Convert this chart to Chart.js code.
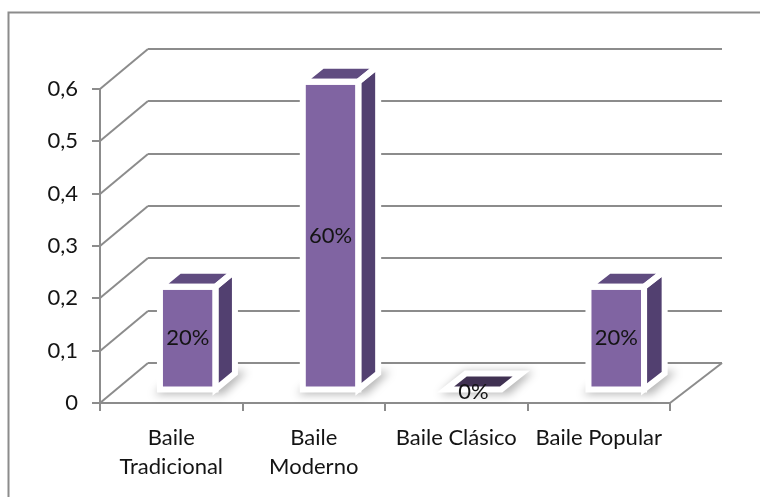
<!DOCTYPE html>
<html lang="es">
<head>
<meta charset="utf-8">
<title>Baile</title>
<script src="https://cdn.jsdelivr.net/npm/chart.js@4"></script>
<style>
  html, body { margin: 0; padding: 0; background: #fff; overflow: hidden; }
  #wrap { width: 760px; height: 497px; position: relative; }
</style>
</head>
<body>
<div id="wrap"><canvas id="chart"></canvas></div>
<script>
// -------- Data ----------
const categories = [["Baile", "Tradicional"], ["Baile", "Moderno"], "Baile Clásico", "Baile Popular"];
const values = [0.2, 0.6, 0, 0.2];
const yTicks = [0, 0.1, 0.2, 0.3, 0.4, 0.5, 0.6];

// -------- Look ----------
const GRID = "#8c8c8c";
const TEXT = "#141414";
const FONT = "Lato, 'Open Sans', sans-serif";
const FACE = { front: "#8064A2", top: "#604C80", side: "#524070", flat: "#403152" };
const DEPTH = { dy: 40, dxLeft: 48, dxRight: 52 };  // how far the back wall sits
const BAR_D1 = 0.34, BAR_D2 = 0.74;                 // bar front/back, as part of the depth
const BAR_SHRINK = 0.98;                            // bars sit a bit back, so a bit smaller

// -------- Helpers ----------
function depthDx(chart, x) {
  const a = chart.chartArea;
  return DEPTH.dxLeft + (DEPTH.dxRight - DEPTH.dxLeft) * (x - a.left) / (a.right - a.left);
}

// front-plane point pushed back by d (0..1)
function back(chart, x, y, d) {
  return [x + depthDx(chart, x) * d, y - DEPTH.dy * d];
}

function poly(ctx, pts) {
  ctx.beginPath();
  ctx.moveTo(pts[0][0], pts[0][1]);
  for (let i = 1; i < pts.length; i++) ctx.lineTo(pts[i][0], pts[i][1]);
  ctx.closePath();
}

function seg(ctx, x0, y0, x1, y1) {
  ctx.beginPath();
  ctx.moveTo(x0, y0);
  ctx.lineTo(x1, y1);
  ctx.stroke();
}

// -------- Plugins ----------
const frame = {
  id: "frame",
  beforeDraw(chart) {
    const ctx = chart.ctx;
    ctx.save();
    ctx.strokeStyle = GRID;
    ctx.lineWidth = 2;
    ctx.beginPath();
    ctx.moveTo(8.5, chart.height);
    ctx.lineTo(8.5, 12.5);
    ctx.lineTo(chart.width, 12.5);
    ctx.stroke();
    ctx.restore();
  }
};

// side wall diagonals, back wall lines and floor edge
const walls = {
  id: "walls",
  beforeDatasetsDraw(chart) {
    const { ctx, chartArea: a, scales: { y } } = chart;
    ctx.save();
    ctx.strokeStyle = GRID;
    ctx.lineWidth = 2;
    yTicks.forEach(v => {
      const py = Math.round(y.getPixelForValue(v));
      const [bx, by] = back(chart, a.left, py, 1);
      const [rx] = back(chart, a.right, py, 1);
      seg(ctx, a.left, py, bx, by);
      seg(ctx, bx, by, rx, by);
    });
    const p0 = Math.round(y.getPixelForValue(0));
    const [rx, ry] = back(chart, a.right, p0, 1);
    seg(ctx, a.right, p0, rx, ry);
    ctx.restore();
  }
};

// 3d boxes built from the (invisible) bar elements
const boxes = {
  id: "boxes",
  afterDatasetsDraw(chart) {
    const { ctx, scales: { y } } = chart;
    const meta = chart.getDatasetMeta(0);
    const base = y.getPixelForValue(0);

    const geo = meta.data.map((bar, i) => {
      const v = values[i];
      const dx = depthDx(chart, bar.x);
      const L = bar.x - bar.width / 2 + dx * BAR_D1;
      const R = bar.x + bar.width / 2 + dx * BAR_D1;
      const B = base - DEPTH.dy * BAR_D1;
      const T = B - (base - y.getPixelForValue(v)) * BAR_SHRINK;
      const ddx = dx * (BAR_D2 - BAR_D1);
      const ddy = DEPTH.dy * (BAR_D2 - BAR_D1);
      return { v, L, R, B, T, ddx, ddy };
    });

    ctx.save();
    // soft shadow on the floor
    ctx.filter = "blur(4px)";
    ctx.fillStyle = "rgba(0,0,0,0.28)";
    geo.forEach(g => {
      poly(ctx, [[g.L - 6, g.B + 5], [g.R + 8, g.B + 5],
                 [g.R + g.ddx + 12, g.B - g.ddy - 2], [g.L + g.ddx - 2, g.B - g.ddy - 2]]);
      ctx.fill();
    });
    ctx.filter = "none";

    ctx.lineJoin = "miter";
    geo.forEach(g => {
      const top = [[g.L, g.T], [g.L + g.ddx, g.T - g.ddy], [g.R + g.ddx, g.T - g.ddy], [g.R, g.T]];
      const faces = [];
      if (g.B - g.T < 1) {
        faces.push([top, FACE.flat]);
      } else {
        faces.push([top, FACE.top]);
        faces.push([[[g.R, g.T], [g.R + g.ddx, g.T - g.ddy], [g.R + g.ddx, g.B - g.ddy], [g.R, g.B]], FACE.side]);
        faces.push([[[g.L, g.T], [g.R, g.T], [g.R, g.B], [g.L, g.B]], FACE.front]);
      }
      faces.forEach(([pts, col]) => { poly(ctx, pts); ctx.fillStyle = col; ctx.fill(); });
      ctx.strokeStyle = "#fff";
      ctx.lineWidth = 6;
      faces.forEach(([pts]) => { poly(ctx, pts); ctx.stroke(); });
    });

    // value labels on the front faces
    ctx.font = `22px ${FONT}`;
    ctx.fillStyle = TEXT;
    ctx.textAlign = "center";
    ctx.textBaseline = "middle";
    geo.forEach(g => {
      const txt = Math.round(g.v * 100) + "%";
      const ty = g.B - g.T < 1 ? g.B + 3 : (g.T + g.B) / 2;
      ctx.fillText(txt, (g.L + g.R) / 2, ty);
    });
    ctx.restore();
  }
};

// -------- Chart ----------
new Chart(document.getElementById("chart"), {
  type: "bar",
  data: {
    labels: categories,
    datasets: [{
      data: values,
      backgroundColor: "rgba(0,0,0,0)",
      borderWidth: 0,
      barPercentage: 0.39,
      categoryPercentage: 1
    }]
  },
  options: {
    responsive: true,
    maintainAspectRatio: false,
    animation: false,
    layout: { padding: { top: 89, right: 90, left: 0, bottom: 0 } },
    plugins: { legend: { display: false }, tooltip: { enabled: false } },
    scales: {
      x: {
        grid: { offset: true, drawOnChartArea: false, tickLength: 8, color: GRID, lineWidth: 2 },
        border: { color: GRID, width: 2 },
        ticks: {
          color: TEXT, padding: 12, maxRotation: 0, autoSkip: false,
          font: { size: 22, family: FONT, lineHeight: 1.33 }
        },
        afterFit: s => { s.height = 94; }
      },
      y: {
        min: 0,
        max: 0.6,
        afterBuildTicks: s => { s.ticks = yTicks.map(v => ({ value: v })); },
        grid: { drawOnChartArea: false, tickLength: 8, color: GRID, lineWidth: 2 },
        border: { color: GRID, width: 2 },
        ticks: {
          color: TEXT, padding: 14,
          font: { size: 22, family: FONT },
          callback: v => v === 0 ? "0" : v.toFixed(1).replace(".", ",")
        },
        afterFit: s => { s.width = 100; }
      }
    }
  },
  plugins: [frame, walls, boxes]
});
</script>
</body>
</html>
